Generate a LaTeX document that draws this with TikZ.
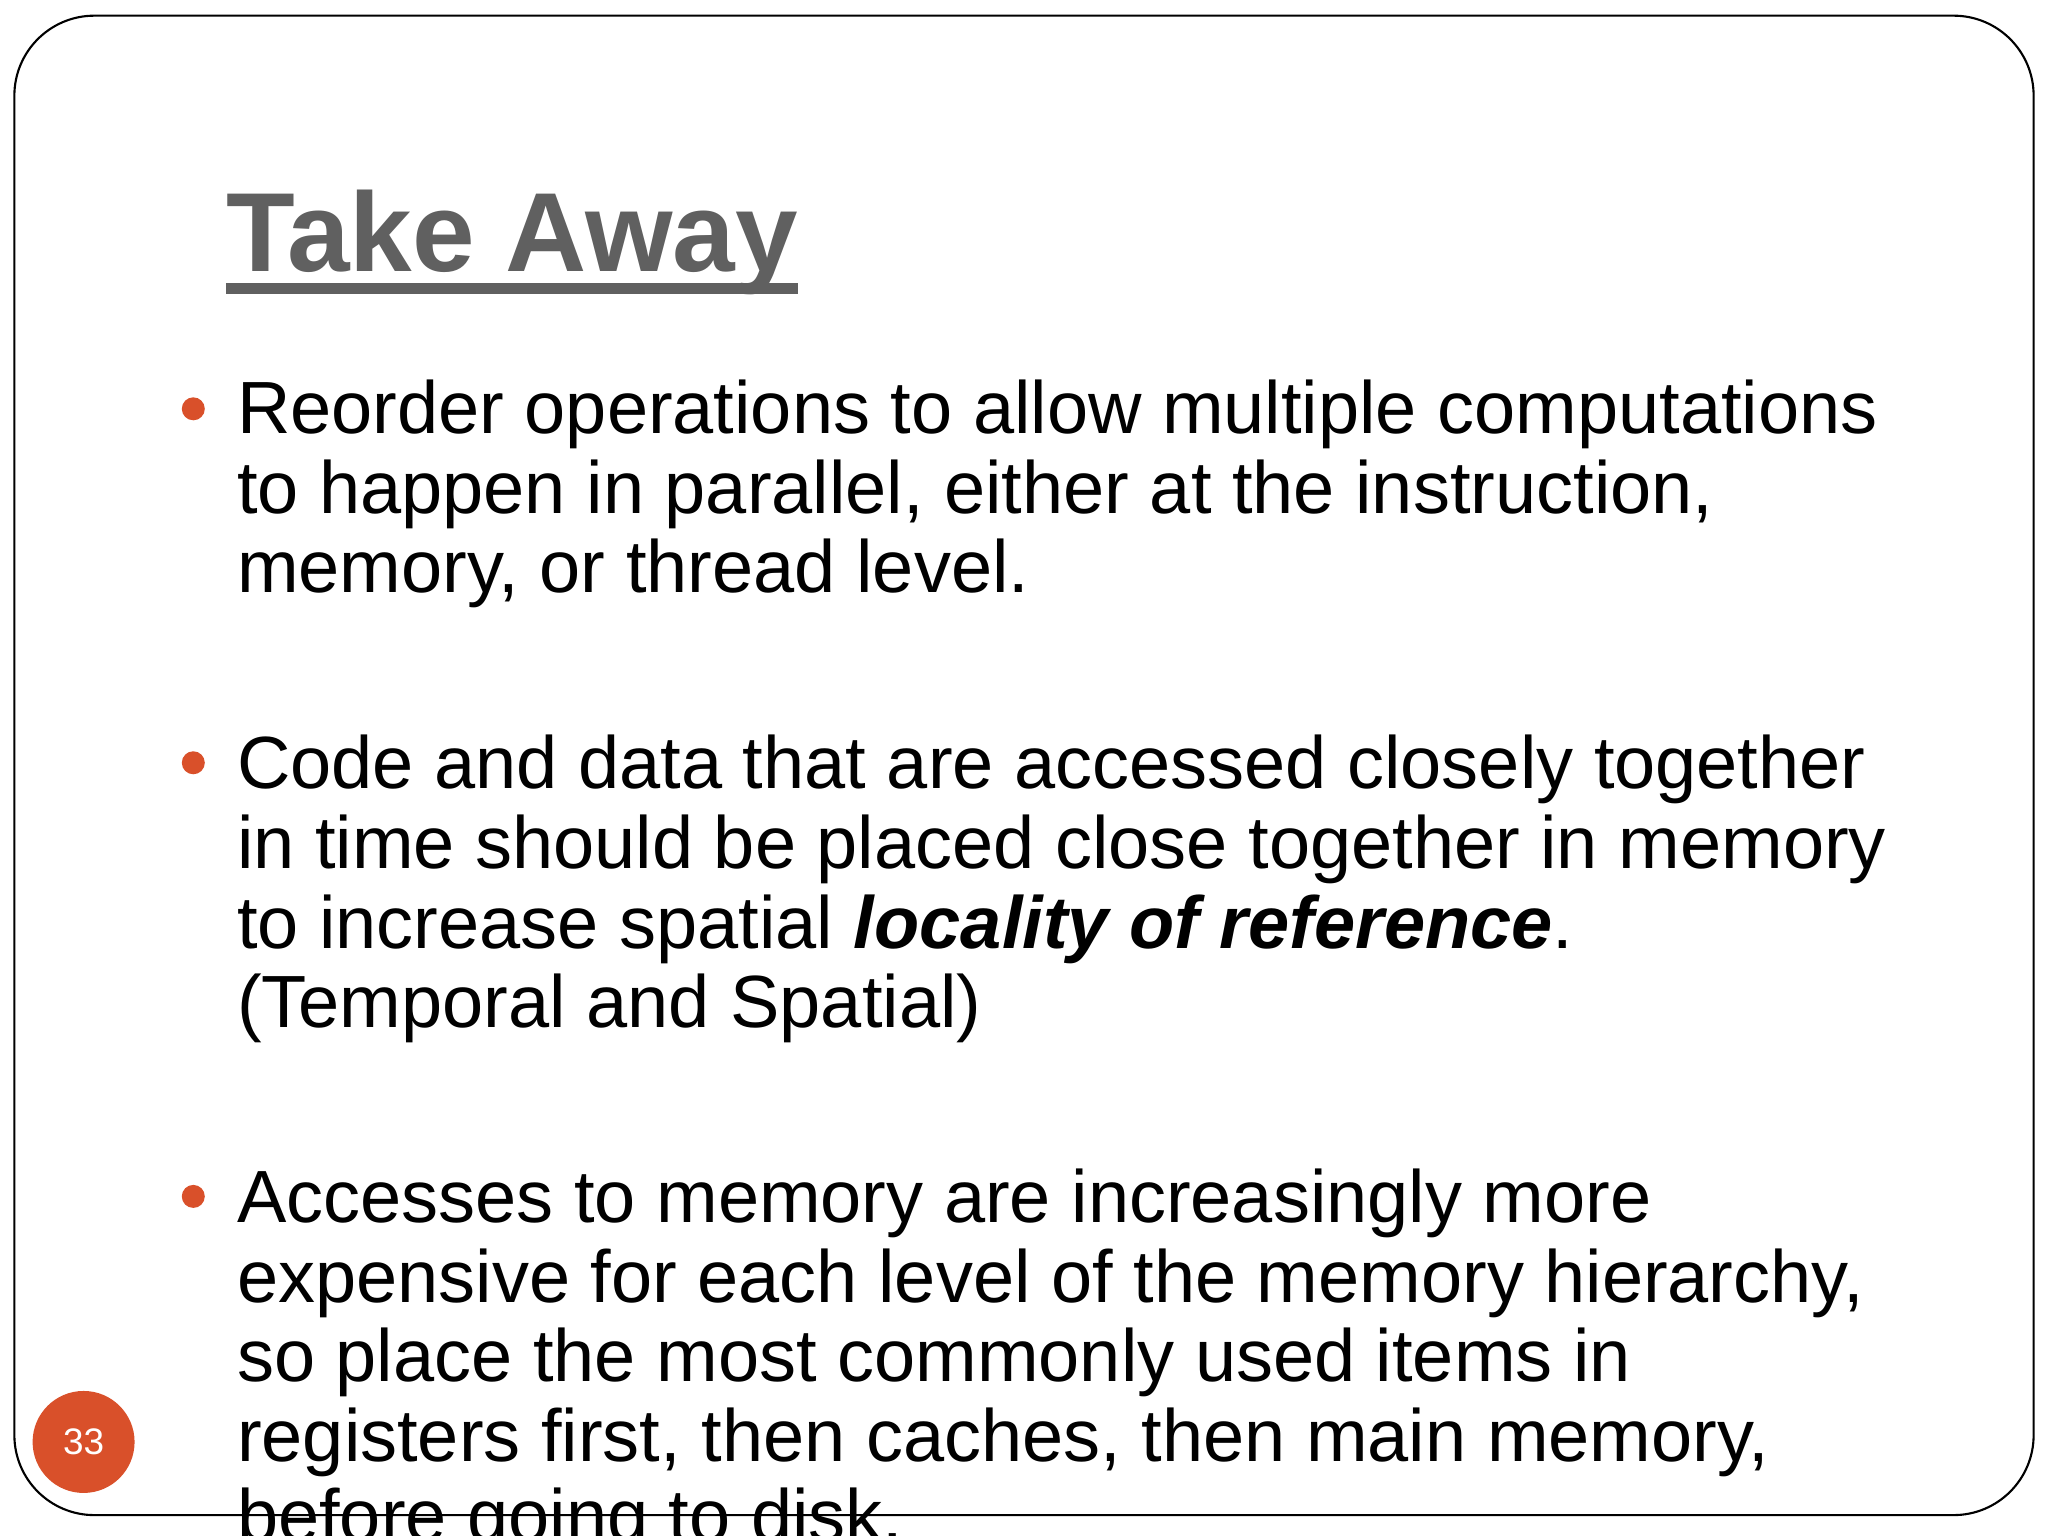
\documentclass[tikz,border=0pt]{standalone}
\usepackage{fontspec}
\setmainfont{Liberation Sans}
\definecolor{bul}{HTML}{D9502A}
\definecolor{ttl}{HTML}{606060}
\begin{document}
\begin{tikzpicture}[x=0.01306cm,y=-0.01306cm,
  ln/.style={anchor=base west,inner sep=0pt,font=\fontsize{21.05}{24}\selectfont},
  bullet/.style={circle,fill=bul,inner sep=0pt,minimum size=0.23cm}]
\useasboundingbox (0,0) rectangle (1568,1176);
\clip (0,0) rectangle (1568,1176);
\draw[line width=0.6pt,rounded corners=0.8cm] (11,12) rectangle (1557,1160);
\node[anchor=base west,inner sep=0pt,text=ttl,font=\fontsize{32}{36}\selectfont\bfseries] (t) at (173,208) {Take Away};
\draw[ttl,line width=3pt] (173,221) -- (611,221);
\node[bullet] (b1) at (148,313) {};
\node[bullet] (b2) at (148,584) {};
\node[bullet] (b3) at (148,916) {};
\node[ln] (l1) at (181,332) {Reorder operations to allow multiple computations};
\node[ln] (l2) at (181,393) {to happen in parallel, either at the instruction,};
\node[ln] (l3) at (181,454) {memory, or thread level.};
\node[ln] (l4) at (181,604) {Code and data that are accessed closely together};
\node[ln] (l5) at (181,665) {in time should be placed close together in memory};
\node[ln] (l6) at (181,726) {to increase spatial \textbf{\textit{locality of reference}}.};
\node[ln] (l7) at (181,787) {(Temporal and Spatial)};
\node[ln] (l8) at (181,936) {Accesses to memory are increasingly more};
\node[ln] (l9) at (181,997) {expensive for each level of the memory hierarchy,};
\node[ln] (l10) at (181,1058) {so place the most commonly used items in};
\node[ln] (l11) at (181,1119) {registers first, then caches, then main memory,};
\node[ln] (l12) at (181,1180) {before going to disk.};
\node[circle,fill=bul,minimum size=1.02cm,inner sep=0pt,text=white,font=\fontsize{10.5}{12}\selectfont] (pg) at (64,1104) {33};
\end{tikzpicture}
\end{document}
